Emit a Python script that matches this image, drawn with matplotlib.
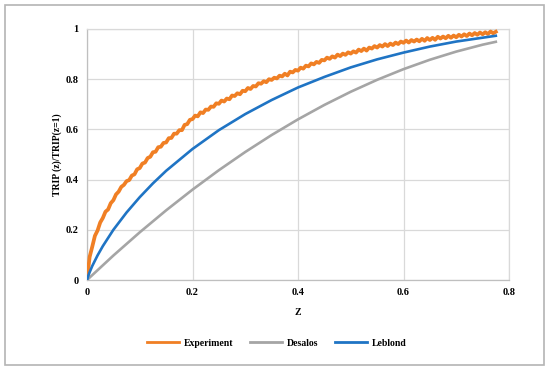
import numpy as np
import matplotlib
matplotlib.use("Agg")
import matplotlib.pyplot as plt
from matplotlib.patches import Rectangle
from matplotlib.lines import Line2D

# ---- data ----
z_exp = np.round(np.arange(0, 0.7751, 0.005), 3)
y_exp = [
    0.000, 0.092, 0.133, 0.176, 0.197, 0.229, 0.247, 0.272, 0.281, 0.306,
    0.318, 0.341, 0.352, 0.371, 0.379, 0.394, 0.398, 0.416, 0.421, 0.441,
    0.446, 0.464, 0.468, 0.486, 0.491, 0.509, 0.511, 0.529, 0.531, 0.546,
    0.548, 0.565, 0.566, 0.583, 0.583, 0.597, 0.597, 0.618, 0.621, 0.638,
    0.641, 0.655, 0.652, 0.668, 0.665, 0.679, 0.678, 0.691, 0.690, 0.704,
    0.702, 0.715, 0.711, 0.723, 0.720, 0.735, 0.733, 0.744, 0.740, 0.754,
    0.752, 0.765, 0.761, 0.773, 0.771, 0.784, 0.782, 0.792, 0.788, 0.800,
    0.797, 0.806, 0.803, 0.814, 0.811, 0.822, 0.815, 0.830, 0.827, 0.837,
    0.834, 0.846, 0.842, 0.854, 0.851, 0.863, 0.859, 0.869, 0.865, 0.877,
    0.875, 0.886, 0.881, 0.891, 0.886, 0.898, 0.892, 0.902, 0.897, 0.907,
    0.902, 0.911, 0.906, 0.918, 0.912, 0.922, 0.914, 0.926, 0.922, 0.932,
    0.926, 0.936, 0.930, 0.940, 0.932, 0.942, 0.936, 0.946, 0.940, 0.950,
    0.945, 0.954, 0.946, 0.956, 0.950, 0.958, 0.951, 0.961, 0.953, 0.964,
    0.956, 0.965, 0.957, 0.969, 0.962, 0.970, 0.963, 0.973, 0.965, 0.974,
    0.967, 0.977, 0.970, 0.979, 0.972, 0.982, 0.975, 0.984, 0.977, 0.986,
    0.979, 0.987, 0.980, 0.990, 0.983, 0.989,
]

z_des = [0, 0.05, 0.10, 0.15, 0.20, 0.25, 0.30, 0.35, 0.40, 0.45, 0.50,
         0.55, 0.60, 0.65, 0.70, 0.75, 0.775]
y_des = [0, 0.0975, 0.19, 0.2775, 0.36, 0.4375, 0.51, 0.5775, 0.64, 0.6975,
         0.75, 0.7975, 0.84, 0.8775, 0.91, 0.9375, 0.949]

z_leb = [0, 0.002, 0.005, 0.01, 0.02, 0.03, 0.05, 0.075, 0.10, 0.125, 0.15,
         0.20, 0.25, 0.30, 0.35, 0.40, 0.45, 0.50, 0.55, 0.60, 0.65, 0.70,
         0.775]
y_leb = [0, 0.014, 0.031, 0.056, 0.098, 0.135, 0.200, 0.269, 0.330, 0.385,
         0.435, 0.522, 0.597, 0.661, 0.717, 0.767, 0.809, 0.847, 0.879,
         0.906, 0.930, 0.950, 0.973]

series_names = ["Experiment", "Desalos", "Leblond"]
colors = ["#f07f24", "#a5a5a5", "#1f74c4"]
x_ticks = [0, 0.2, 0.4, 0.6, 0.8]
y_ticks = [0, 0.2, 0.4, 0.6, 0.8, 1]

# ---- figure ----
plt.rcParams['font.family'] = ['Liberation Serif', 'DejaVu Serif']
fig = plt.figure(figsize=(5.5, 3.71), dpi=100)
fig.patch.set_facecolor("white")
fig.add_artist(Rectangle((5/550, 1-365/371), 539/550, 360/371,
                         transform=fig.transFigure, fill=False,
                         edgecolor="#b4b4b4", linewidth=1.2))

ax = fig.add_axes([87/550, 1-280/371, 422/550, 251/371])
ax.plot(z_exp, y_exp, color=colors[0], lw=2.7, zorder=3)
ax.plot(z_des, y_des, color=colors[1], lw=1.9, zorder=4)
ax.plot(z_leb, y_leb, color=colors[2], lw=1.9, zorder=5)

ax.set_xlim(0, 0.8)
ax.set_ylim(0, 1)
ax.set_xticks(x_ticks)
ax.set_xticklabels(["0", "0.2", "0.4", "0.6", "0.8"])
ax.set_yticks(y_ticks)
ax.set_yticklabels(["0", "0.2", "0.4", "0.6", "0.8", "1"])
ax.tick_params(axis="y", length=0, labelsize=7.5, pad=6)
ax.tick_params(axis="x", length=0, labelsize=7.5, pad=6)
for lab in ax.get_xticklabels() + ax.get_yticklabels():
    lab.set_fontweight("bold")
ax.grid(True, color="#d9d9d9", lw=0.9, zorder=0)
ax.set_axisbelow(True)
for s in ax.spines.values():
    s.set_color("#d9d9d9")
    s.set_linewidth(0.9)
ax.spines["left"].set_color("#bfbfbf")
ax.spines["bottom"].set_color("#bfbfbf")

ax.set_xlabel("Z", fontsize=7, fontweight="bold", labelpad=8)
ax.set_ylabel("TRIP (z)/TRIP(z=1)", fontsize=7, fontweight="bold", labelpad=3)

handles = [Line2D([], [], color=c, lw=2) for c in colors]
fig.legend(handles, series_names, loc="center", bbox_to_anchor=(277/550, 1-343/371),
           ncol=3, frameon=False, prop={"size": 7, "weight": "bold"},
           handlelength=3.3, columnspacing=1.7, handletextpad=0.5)

fig.savefig("out.png", dpi=100, facecolor="white")
